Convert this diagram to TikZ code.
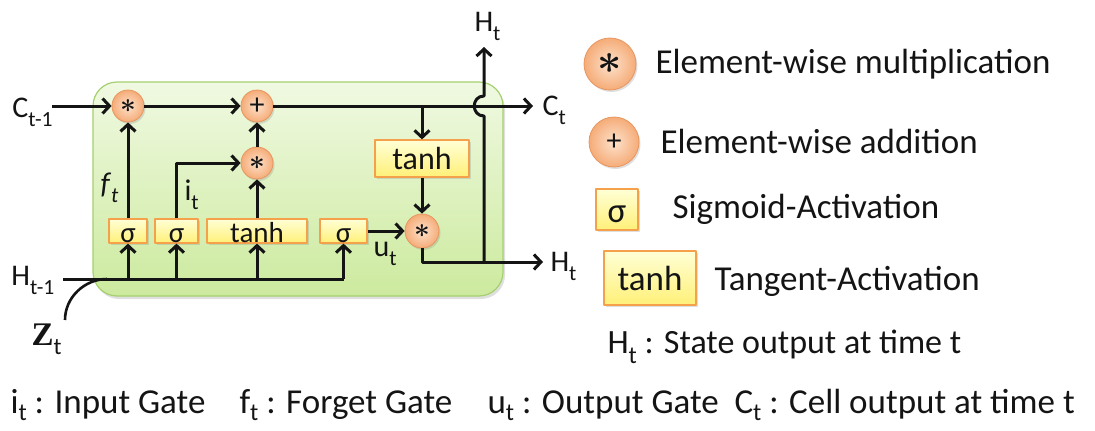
\documentclass[tikz,border=0pt]{standalone}
\usepackage{fontspec}
\usepackage{amsmath}
\usepackage{graphicx}
\setmainfont{Carlito}
\newfontfamily\zfont{Liberation Serif}
\usetikzlibrary{arrows.meta,shadows}
\definecolor{ink}{RGB}{20,20,20}
\definecolor{cellfillA}{RGB}{240,249,226}
\definecolor{cellfillB}{RGB}{204,234,158}
\definecolor{celldraw}{RGB}{165,208,110}
\definecolor{opin}{RGB}{253,226,204}
\definecolor{opout}{RGB}{245,172,120}
\definecolor{opdraw}{RGB}{232,150,95}
\definecolor{gateA}{RGB}{255,255,214}
\definecolor{gateB}{RGB}{255,240,120}
\definecolor{gatedraw}{RGB}{245,160,75}
\newcommand\lsub[1]{\raisebox{-0.3em}{\scalebox{0.72}{#1}}}
\newcommand\bsub[1]{\raisebox{-0.22em}{\scalebox{0.7}{#1}}}
\newcommand\multsym[1]{\scalebox{#1}{\Huge$\boldsymbol{\ast}$}}
\begin{document}
\begin{tikzpicture}[x=1pt,y=-1pt,line width=3pt,color=ink,line join=round,
  arr/.style={-{Straight Barb[length=7pt,width=15pt]}},
  cellbox/.style={rectangle,rounded corners=24pt,draw=celldraw,line width=1.2pt,
    top color=cellfillA,bottom color=cellfillB,
    drop shadow={opacity=0.25,shadow xshift=2pt,shadow yshift=-3pt}},
  op/.style={circle,minimum size=32pt,inner sep=0pt,draw=opdraw,line width=0.8pt,
    inner color=opin,outer color=opout,text=ink,
    drop shadow={opacity=0.25,shadow xshift=1.5pt,shadow yshift=-2pt}},
  gate/.style={rectangle,inner sep=0pt,minimum height=24pt,text height=22pt,text depth=0pt,
    draw=gatedraw,line width=1.2pt,top color=gateA,bottom color=gateB,text=ink,
    font=\fontsize{29}{29}\selectfont,
    drop shadow={opacity=0.25,shadow xshift=1.5pt,shadow yshift=-2pt}},
  lbl/.style={anchor=base west,inner sep=0pt,text=ink,font=\fontsize{30}{30}\selectfont},
  leg/.style={anchor=base west,inner sep=0pt,text=ink,font=\fontsize{35}{35}\selectfont},
  bot/.style={anchor=base west,inner sep=0pt,text=ink,font=\fontsize{35}{35}\selectfont}]
\useasboundingbox (0,0) rectangle (1095,431);

% cell
\node[cellbox,minimum width=410pt,minimum height=214pt] (cell) at (298,189) {};

% operators
\node[op] (m1) at (128,106) {\multsym{1.1}};
\node[op] (pl) at (257,106) {\fontsize{30}{30}\selectfont +};
\node[op] (m2) at (257,163) {\multsym{1.1}};
\node[op,minimum size=34pt] (m3) at (422,231) {\multsym{1.1}};

% gates
\node[gate,minimum width=38pt] (s1) at (128,231) {σ};
\node[gate,minimum width=43pt] (s2) at (176.5,231) {σ};
\node[gate,minimum width=100pt] (th1) at (257,231) {tanh};
\node[gate,minimum width=47pt] (s3) at (343.5,231) {σ};
\node[gate,minimum width=94pt,minimum height=37pt,font=\fontsize{32}{32}\selectfont] (th2) at (422,158.5) {tanh};

% H line and Z curve
\coordinate (hs) at (63,279);
\coordinate (he) at (343.5,279);
\draw (hs) -- (he);
\coordinate (zs) at (65,320);
\coordinate (zj) at (107,279);
\draw[line width=2.6pt] (zs) .. controls (65,297) and (85,279) .. (zj);
\draw[arr] (s1.south |- hs) -- (s1.south);
\draw[arr] (s2.south |- hs) -- (s2.south);
\draw[arr] (th1.south |- hs) -- (th1.south);
\draw[arr] (s3.south |- hs) -- (s3.south);

% internal connections
\draw[arr] (s1) -- (m1);
\draw[arr] (s2.north) |- (m2.west);
\draw[arr] (th1) -- (m2);
\draw[arr] (m2) -- (pl);
\draw[arr] (s3) -- (m3);

% cell state line
\coordinate (cin) at (52,106);
\coordinate (cout) at (533,106);
\coordinate (cb) at (422,106);
\draw[arr] (cin) -- (m1);
\draw[arr] (m1) -- (pl);
\draw[arr] (pl) -- (cout);
\draw[arr] (cb) -- (th2);
\draw[arr] (th2) -- (m3);

% hidden output
\coordinate (hout) at (543,262);
\coordinate (hj) at (484,262);
\coordinate (htop) at (484,47);
\draw[arr] (m3.south) |- (hout);
\draw[arr] (hj) -- (484,116) .. controls (471,116) and (471,96) .. (484,96) -- (htop);

% cell labels
\node[lbl] (lc1) at (11,117) {C\lsub{t-1}};
\node[lbl] (lh1) at (10,285) {H\lsub{t-1}};
\node[lbl] (lht) at (473,31) {H\lsub{t}};
\node[lbl] (lct) at (541,115) {C\lsub{t}};
\node[lbl] (lho) at (549,271) {H\lsub{t}};
\node[lbl] (lf) at (99,193) {\textit{f}\lsub{\textit{t}}};
\node[lbl] (li) at (183,200) {i\lsub{t}};
\node[lbl] (lu) at (372,256) {u\lsub{t}};
\node[lbl,font=\fontsize{33}{33}\selectfont] (lz) at (30,345) {{\zfont\bfseries Z}\lsub{t}};

% legend
\node[op,minimum size=52pt] (gm) at (610,64) {\multsym{1.7}};
\node[op,minimum size=50pt] (gp) at (614,142) {\fontsize{30}{30}\selectfont +};
\node[gate,minimum width=42pt,minimum height=41pt,text height=25pt,font=\fontsize{35}{35}\selectfont] (gs) at (617,209.5) {σ};
\node[gate,minimum width=92pt,minimum height=54pt,text height=24pt,font=\fontsize{35}{35}\selectfont] (gt) at (650,278) {tanh};
\node[leg] (t1) at (654,73) {Element-wise multiplication};
\node[leg] (t2) at (659,153) {Element-wise addition};
\node[leg] (t3) at (671,218) {Sigmoid-Activation};
\node[leg] (t4) at (713,290) {Tangent-Activation};
\node[leg,font=\fontsize{34}{34}\selectfont] (t5) at (606,353) {H\lsub{t} : State output at time t};

% bottom line
\node[bot] (b1) at (9,413) {i\bsub{t} : Input Gate};
\node[bot] (b2) at (238,413) {f\bsub{t} : Forget Gate};
\node[bot] (b3) at (486,413) {u\bsub{t} : Output Gate};
\node[bot] (b4) at (733,413) {C\bsub{t} : Cell output at time t};
\end{tikzpicture}
\end{document}
